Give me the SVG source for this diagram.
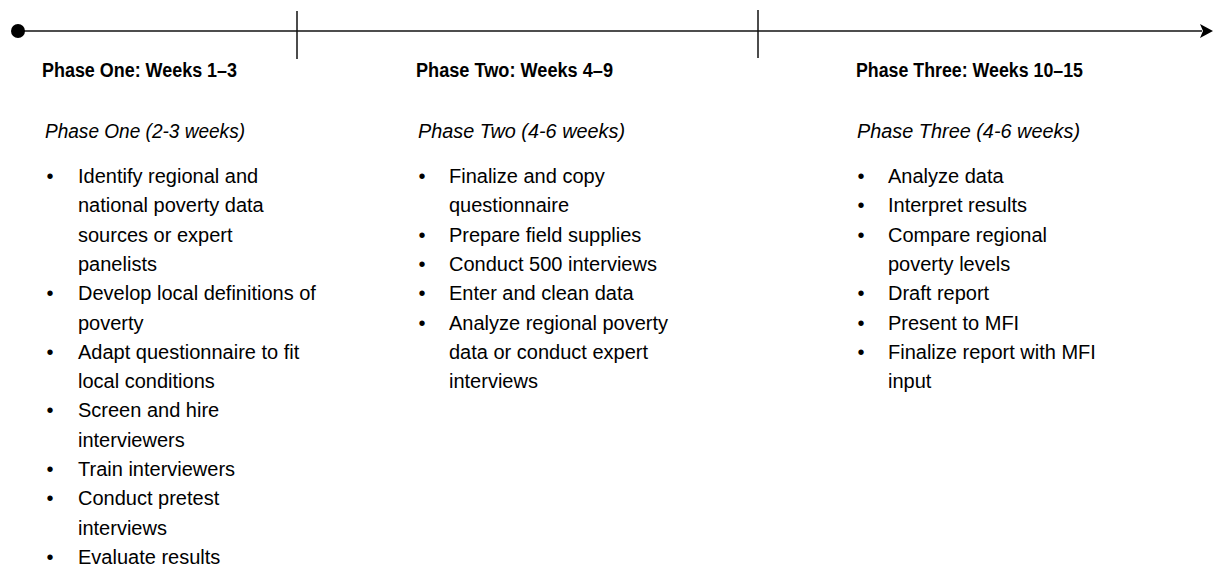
<svg xmlns="http://www.w3.org/2000/svg" width="1214" height="565" viewBox="0 0 1214 565">
<style>
.h{font-family:"Liberation Sans",Arial,sans-serif;font-weight:bold;font-size:20px;fill:#000}
.s{font-family:"Liberation Sans",Arial,sans-serif;font-style:italic;font-size:20px;fill:#000}
.b{font-family:"Liberation Sans",Arial,sans-serif;font-size:20px;fill:#000}
.dot{font-family:"Liberation Sans",Arial,sans-serif;font-size:20px;fill:#000;text-anchor:middle}
.axis{stroke:#4d4d4d;stroke-width:2;fill:none}
.tick{stroke:#111;stroke-width:1.5}
</style>
<defs>
<marker id="arr" markerUnits="userSpaceOnUse" markerWidth="14" markerHeight="16" viewBox="0 0 14 16" refX="2" refY="8" orient="auto">
<path d="M0,1 L13,8 L0,15 L3,8 Z" fill="#000"/>
</marker>
</defs>
<rect width="1214" height="565" fill="#fff"/>
<g id="connectors">
<line class="axis" x1="18" y1="31" x2="1202" y2="31" marker-end="url(#arr)"/>
<circle cx="18" cy="31" r="7" fill="#000"/>
<line class="tick" x1="297" y1="11" x2="297" y2="59"/>
<line class="tick" x1="758" y1="10" x2="758" y2="58"/>
</g>
<g id="phase-one">
<text class="h" x="42" y="77" textLength="195" lengthAdjust="spacingAndGlyphs">Phase One: Weeks 1–3</text>
<text class="s" x="45" y="138" textLength="200" lengthAdjust="spacingAndGlyphs">Phase One (2-3 weeks)</text>
<text class="dot" x="50" y="183">•</text>
<text class="b" x="78" y="183">Identify regional and</text>
<text class="b" x="78" y="212.3">national poverty data</text>
<text class="b" x="78" y="241.6">sources or expert</text>
<text class="b" x="78" y="270.9">panelists</text>
<text class="dot" x="50" y="300.2">•</text>
<text class="b" x="78" y="300.2">Develop local definitions of</text>
<text class="b" x="78" y="329.5">poverty</text>
<text class="dot" x="50" y="358.8">•</text>
<text class="b" x="78" y="358.8">Adapt questionnaire to fit</text>
<text class="b" x="78" y="388.1">local conditions</text>
<text class="dot" x="50" y="417.4">•</text>
<text class="b" x="78" y="417.4">Screen and hire</text>
<text class="b" x="78" y="446.7">interviewers</text>
<text class="dot" x="50" y="476">•</text>
<text class="b" x="78" y="476">Train interviewers</text>
<text class="dot" x="50" y="505.3">•</text>
<text class="b" x="78" y="505.3">Conduct pretest</text>
<text class="b" x="78" y="534.6">interviews</text>
<text class="dot" x="50" y="563.9">•</text>
<text class="b" x="78" y="563.9">Evaluate results</text>
</g>
<g id="phase-two">
<text class="h" x="416" y="77" textLength="197" lengthAdjust="spacingAndGlyphs">Phase Two: Weeks 4–9</text>
<text class="s" x="418" y="138" textLength="207" lengthAdjust="spacingAndGlyphs">Phase Two (4-6 weeks)</text>
<text class="dot" x="422" y="183">•</text>
<text class="b" x="449" y="183">Finalize and copy</text>
<text class="b" x="449" y="212.3">questionnaire</text>
<text class="dot" x="422" y="241.6">•</text>
<text class="b" x="449" y="241.6">Prepare field supplies</text>
<text class="dot" x="422" y="270.9">•</text>
<text class="b" x="449" y="270.9">Conduct 500 interviews</text>
<text class="dot" x="422" y="300.2">•</text>
<text class="b" x="449" y="300.2">Enter and clean data</text>
<text class="dot" x="422" y="329.5">•</text>
<text class="b" x="449" y="329.5">Analyze regional poverty</text>
<text class="b" x="449" y="358.8">data or conduct expert</text>
<text class="b" x="449" y="388.1">interviews</text>
</g>
<g id="phase-three">
<text class="h" x="856" y="77" textLength="227" lengthAdjust="spacingAndGlyphs">Phase Three: Weeks 10–15</text>
<text class="s" x="857" y="138" textLength="223" lengthAdjust="spacingAndGlyphs">Phase Three (4-6 weeks)</text>
<text class="dot" x="861" y="183">•</text>
<text class="b" x="888" y="183">Analyze data</text>
<text class="dot" x="861" y="212.3">•</text>
<text class="b" x="888" y="212.3">Interpret results</text>
<text class="dot" x="861" y="241.6">•</text>
<text class="b" x="888" y="241.6">Compare regional</text>
<text class="b" x="888" y="270.9">poverty levels</text>
<text class="dot" x="861" y="300.2">•</text>
<text class="b" x="888" y="300.2">Draft report</text>
<text class="dot" x="861" y="329.5">•</text>
<text class="b" x="888" y="329.5">Present to MFI</text>
<text class="dot" x="861" y="358.8">•</text>
<text class="b" x="888" y="358.8">Finalize report with MFI</text>
<text class="b" x="888" y="388.1">input</text>
</g>
</svg>
